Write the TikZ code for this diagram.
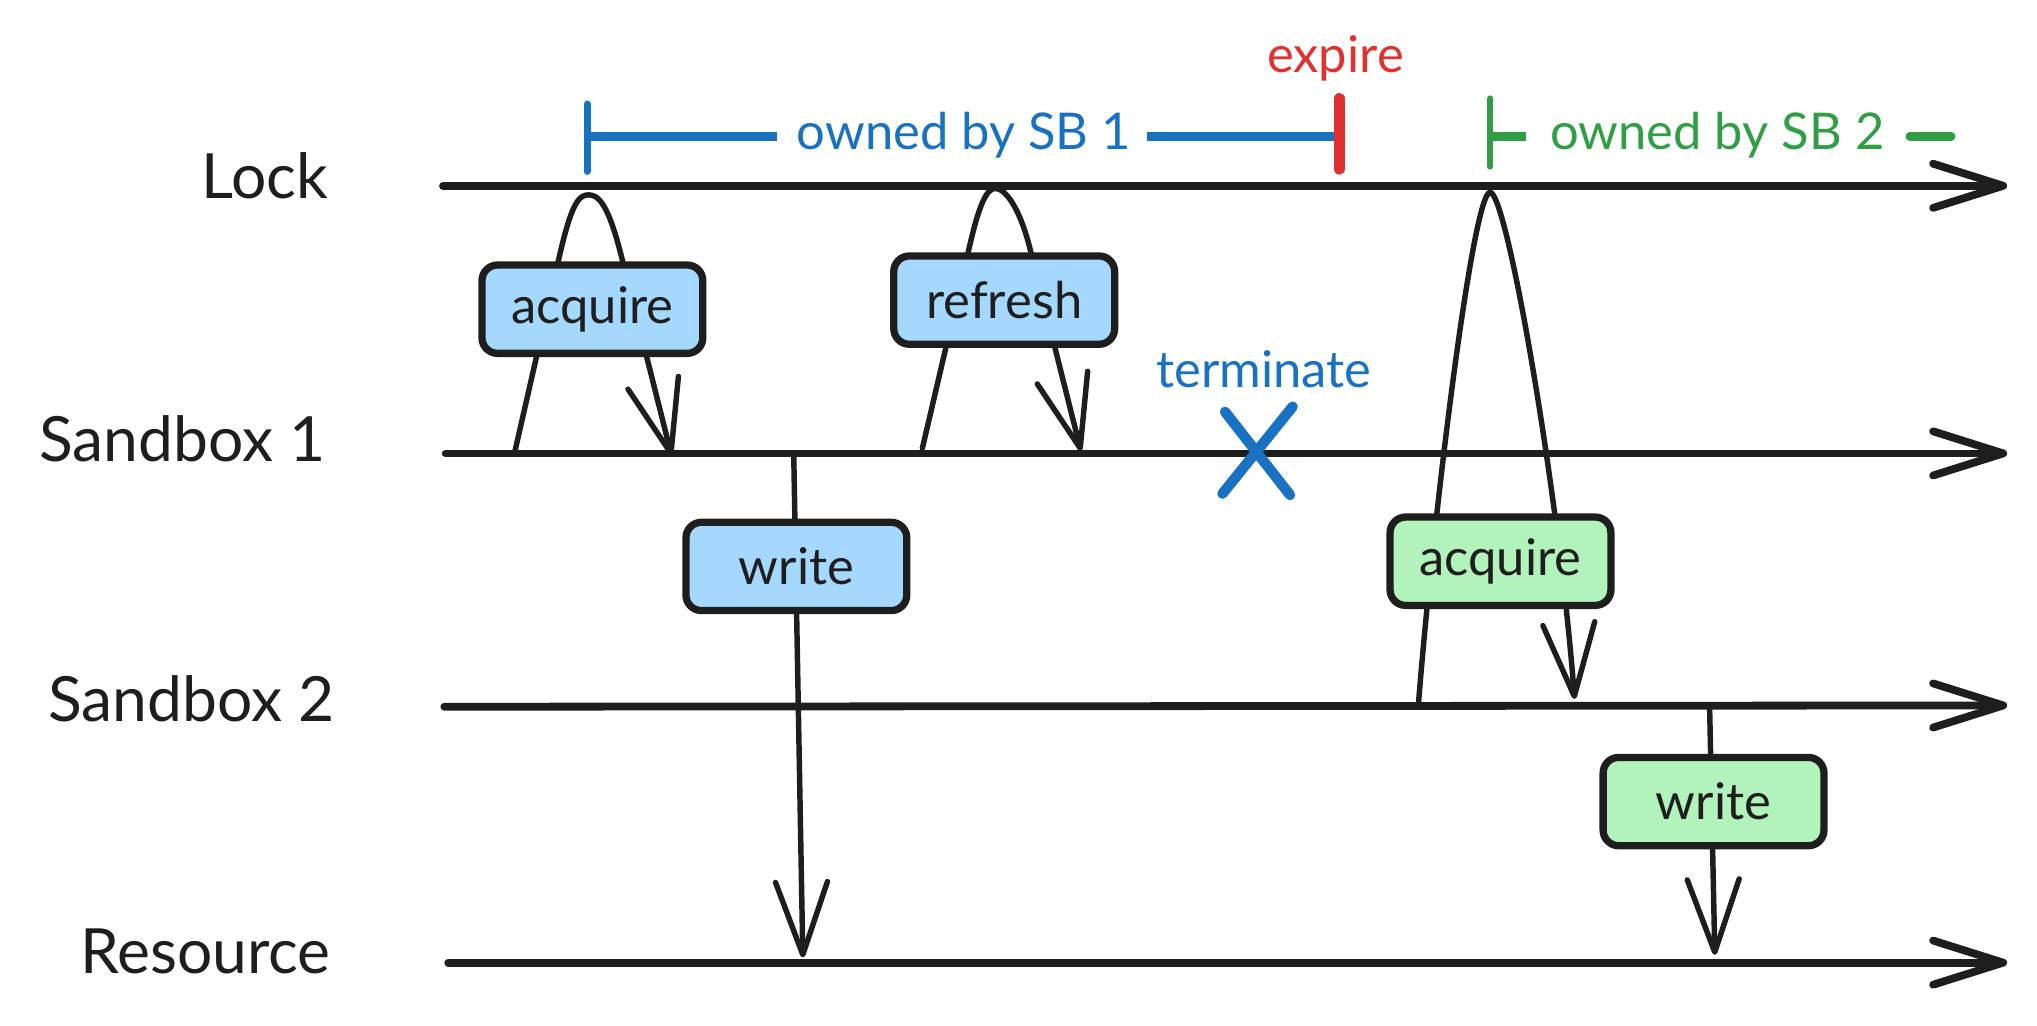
\documentclass[tikz,border=0pt]{standalone}
\usepackage{fontspec}
\setmainfont{Lato}
\usetikzlibrary{arrows.meta}
\definecolor{ink}{HTML}{1E1E1E}
\definecolor{sbblue}{HTML}{1971C2}
\definecolor{sbred}{HTML}{E03131}
\definecolor{sbgreen}{HTML}{2F9E44}
\definecolor{boxblue}{HTML}{A5D8FF}
\definecolor{boxgreen}{HTML}{B2F2BB}
\begin{document}
\begin{tikzpicture}[x=0.5pt,y=-0.5pt,
  lane/.style={draw=ink, line width=3pt, line cap=round, line join=round, -{Straight Barb[length=27pt,width=17pt,round]}},
  lanelabel/.style={anchor=base east, text=ink, font=\fontsize{24}{28}\selectfont, inner sep=0pt},
  opbox/.style={draw=ink, line width=2.8pt, rounded corners=6pt, minimum width=85pt, minimum height=34pt, text=ink, font=\fontsize{19.5}{23}\selectfont, inner sep=0pt},
  bluebox/.style={opbox, fill=boxblue},
  greenbox/.style={opbox, fill=boxgreen},
  msg/.style={draw=ink, line width=2.1pt, line cap=round, line join=round, -{Straight Barb[length=28pt,width=20pt,round]}},
  note/.style={font=\fontsize{19.5}{23}\selectfont, inner sep=0pt, anchor=base},
  bluebar/.style={draw=sbblue, line width=3.2pt, line cap=round},
  greenbar/.style={draw=sbgreen, line width=3.2pt, line cap=round},
]
\useasboundingbox (0,0) rectangle (1568,789);

% lane labels
\node[lanelabel] (lLock) at (253,153) {Lock};
\node[lanelabel] (lSB1) at (251,355) {Sandbox 1};
\node[lanelabel] (lSB2) at (258,555) {Sandbox 2};
\node[lanelabel] (lRes) at (255,749) {Resource};

% lanes
\coordinate (lockS) at (341,143); \coordinate (lockE) at (1545,143);
\coordinate (sb1S) at (343,349);  \coordinate (sb1E) at (1545,349);
\coordinate (sb2S) at (342,544);  \coordinate (sb2E) at (1545,543);
\coordinate (resS) at (345,741);  \coordinate (resE) at (1545,741);
\draw[lane] (lockS) -- (lockE);
\draw[lane] (sb1S) -- (sb1E);
\draw[lane] (sb2S) -- (sb2E);
\draw[lane] (resS) -- (resE);

% top annotations
\node[note, text=sbblue] (own1) at (742,115) {owned by SB 1};
\coordinate (t1top) at (452,80); \coordinate (t1bot) at (452,132); \coordinate (t1mid) at (452,105);
\draw[draw=sbblue, line width=2.6pt, line cap=round] (t1top) -- (t1bot);
\coordinate (exTop) at (1031,76); \coordinate (exBot) at (1031,130); \coordinate (exMid) at (1031,105);
\draw[bluebar, line cap=butt] (t1mid) -- (598,105);
\draw[bluebar, line cap=butt] (883,105) -- (exMid);
\draw[draw=sbred, line width=4.4pt, line cap=round] (exTop) -- (exBot);
\node[note, text=sbred] (expire) at (1028,56) {expire};

\coordinate (t2top) at (1147,76); \coordinate (t2bot) at (1147,128); \coordinate (t2mid) at (1147,105);
\draw[draw=sbgreen, line width=2.6pt, line cap=round] (t2top) -- (t2bot);
\node[note, text=sbgreen] (own2) at (1322,115) {owned by SB 2};
\draw[greenbar, line cap=butt] (t2mid) -- (1175,105);
\coordinate (g2a) at (1470,105); \coordinate (g2b) at (1502,105);
\draw[greenbar] (g2a) -- (g2b);

% terminate
\node[note, text=sbblue] (term) at (973,298) {terminate};
\coordinate (xa1) at (943,317); \coordinate (xa2) at (993,381);
\coordinate (xb1) at (995,313); \coordinate (xb2) at (941,380);
\draw[draw=sbblue, line width=4pt, line cap=round] (xa1) -- (xa2) (xb1) -- (xb2);

% connectors
\coordinate (a1s) at (396,349); \coordinate (a1e) at (517,351);
\draw[msg] (a1s) -- (430,200) .. controls (440,155) and (446,150) .. (453,150)
  .. controls (460,150) and (468,155) .. (479,200) -- (a1e);
\coordinate (rs) at (710,345); \coordinate (re) at (832,347);
\draw[msg] (rs) -- (746,191) .. controls (753,160) and (759,145) .. (766,145)
  .. controls (774,145) and (785,160) .. (793,192) -- (re);
\coordinate (w1s) at (611,351); \coordinate (w1e) at (618,737);
\draw[msg] (w1s) -- (w1e);
\coordinate (g1s) at (1092,540); \coordinate (g1e) at (1212,538);
\draw[msg] (g1s) .. controls (1104,390) and (1134,148) .. (1147,148)
  .. controls (1160,148) and (1200,380) .. (g1e);
\coordinate (w2s) at (1316,545); \coordinate (w2e) at (1320,735);
\draw[msg] (w2s) -- (w2e);

% boxes
\node[bluebox] (acq1) at (456,238) {acquire};
\node[bluebox] (refresh) at (773,231) {refresh};
\node[bluebox] (write1) at (613,436) {write};
\node[greenbox] (acq2) at (1155,432) {acquire};
\node[greenbox] (write2) at (1319,617) {write};
\end{tikzpicture}
\end{document}
